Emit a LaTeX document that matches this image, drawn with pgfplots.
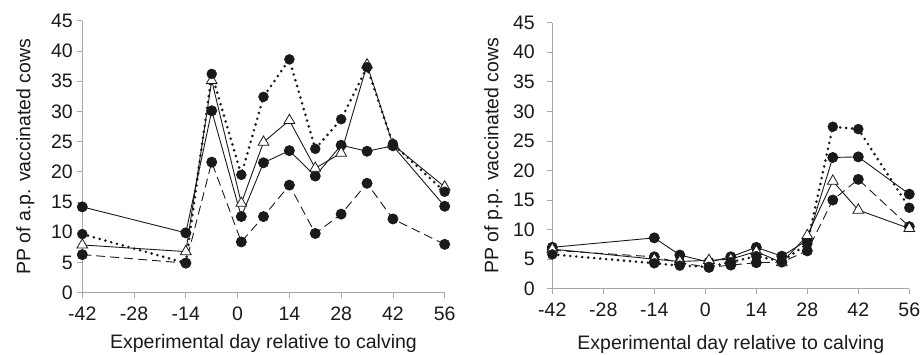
\documentclass[border=0pt]{standalone}
\usepackage{fontspec}
\setmainfont{Liberation Sans}
\usepackage{pgfplots}
\usepackage{pgfplotstable}
\pgfplotsset{compat=1.18}
\definecolor{axisgray}{HTML}{A6A6A6}
\definecolor{ink}{HTML}{1A1A1A}

\pgfplotstableread{
day dot sol tri dash
-42 9.7 14.2 7.9 6.3
-14 4.9 9.9 6.8 4.9
-7 36.2 30.1 35.1 21.6
1 19.5 12.6 14.8 8.4
7 32.4 21.5 24.9 12.6
14 38.6 23.5 28.5 17.8
21 23.8 19.3 20.6 9.8
28 28.7 24.4 23.1 13.0
35 37.3 23.4 37.7 18.1
42 24.6 24.3 24.5 12.2
56 16.7 14.3 17.5 8.0
}\lefttab

\pgfplotstableread{
day dot sol tri dash
-42 5.8 7.0 6.7 6.5
-14 4.3 8.6 5.0 5.4
-7 3.9 5.7 4.6 4.4
1 3.7 4.5 4.8 3.6
7 4.5 5.4 5.0 4.0
14 5.5 7.0 6.3 4.4
21 4.6 5.5 4.4 4.5
28 7.6 8.2 9.0 6.4
35 27.4 22.2 18.2 15.0
42 27.0 22.3 13.3 18.5
56 13.7 16.0 10.2 10.5
}\righttab

\pgfplotsset{
  common/.style={
    scale only axis,
    xmin=-42, xmax=56, ymin=0, ymax=45,
    xtick={-42,-28,-14,0,14,28,42,56},
    ytick={0,5,...,45},
    axis x line*=bottom, axis y line*=left,
    axis line style={draw=axisgray, line width=0.8pt, -},
    tick align=outside,
    major tick length=5pt,
    tick style={draw=axisgray, line width=0.8pt},
    /pgf/number format/assume math mode=true,
    tick label style={font=\fontsize{19.5}{21}\selectfont, text=ink},
    label style={font=\fontsize{19.5}{21}\selectfont, text=ink},
    xticklabel style={yshift=-6pt},
    clip=false,
  },
  dotline/.style={ink, line width=2.9pt, dash pattern=on 0pt off 6pt, line cap=round,
    mark=*, mark size=5pt, mark options={solid, line width=0.4pt, fill=ink}},
  solline/.style={ink, line width=0.9pt, mark=*, mark size=5pt, mark options={solid, fill=ink}},
  triline/.style={ink, line width=0.9pt, mark=triangle*, mark size=6.2pt, mark options={solid, fill=white, line width=0.8pt}},
  dashline/.style={ink, line width=0.9pt, dash pattern=on 9pt off 5pt, mark=*, mark size=5pt, mark options={solid, fill=ink}},
}

\begin{document}
\begin{tikzpicture}
\useasboundingbox (0pt,0pt) rectangle (920pt,354pt);
\begin{axis}[common,
  at={(82.3pt,61.3pt)}, anchor=south west,
  width=362.4pt, height=272pt,
  ylabel={PP of a.p. vaccinated cows},
  xlabel={Experimental day relative to calving},
  xlabel style={at={(axis description cs:0.5,-0.185)}, anchor=center},
  ylabel style={at={(axis description cs:-0.157,0.5)}, anchor=center},
  yticklabel style={xshift=-1pt},
]
\addplot[dashline] table[x=day,y=dash] {\lefttab};
\addplot[solline] table[x=day,y=sol] {\lefttab};
\addplot[triline] table[x=day,y=tri] {\lefttab};
\addplot[dotline] table[x=day,y=dot] {\lefttab};
\end{axis}
\begin{axis}[common,
  at={(552.3pt,65.3pt)}, anchor=south west,
  width=357pt, height=266pt,
  ylabel={PP of p.p. vaccinated cows},
  xlabel={Experimental day relative to calving},
  xlabel style={at={(axis description cs:0.5,-0.211)}, anchor=center},
  ylabel style={at={(axis description cs:-0.165,0.5)}, anchor=center},
  yticklabel style={xshift=-9pt},
]
\addplot[dashline] table[x=day,y=dash] {\righttab};
\addplot[solline] table[x=day,y=sol] {\righttab};
\addplot[triline] table[x=day,y=tri] {\righttab};
\addplot[dotline] table[x=day,y=dot] {\righttab};
\end{axis}
\end{tikzpicture}
\end{document}
